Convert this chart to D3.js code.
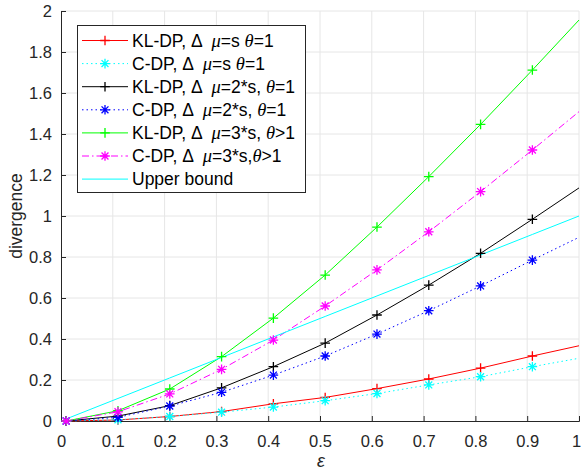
<!DOCTYPE html>
<html><head><meta charset="utf-8">
<script src="https://cdn.jsdelivr.net/npm/d3@7"></script>
<style>body{margin:0;background:#fff}svg{display:block}text{font-family:"Liberation Sans",Arial,sans-serif}</style>
</head><body>
<svg id="c" width="581" height="473"></svg>
<script>
const xs = [0.01,0.11,0.21,0.31,0.41,0.51,0.61,0.71,0.81,0.91,1.0];
const klS   = [0,0.005,0.022,0.046,0.084,0.115,0.158,0.205,0.258,0.317,0.367];
const cdpS  = [0,0.006,0.022,0.043,0.068,0.099,0.134,0.176,0.216,0.265,0.306];
const kl2S  = [0,0.024,0.075,0.162,0.265,0.38,0.517,0.663,0.818,0.984,1.137];
const cdp2S = [0,0.018,0.073,0.14,0.224,0.317,0.424,0.538,0.659,0.785,0.896];
const kl3S  = [0,0.05,0.156,0.314,0.502,0.712,0.946,1.192,1.447,1.712,1.956];
const cdp3S = [0,0.045,0.132,0.252,0.395,0.561,0.737,0.923,1.119,1.322,1.509];
const upper = [0.01,0.11,0.21,0.31,0.41,0.51,0.61,0.71,0.81,0.91,1.0];
const xTicks = [0,0.1,0.2,0.3,0.4,0.5,0.6,0.7,0.8,0.9,1];
const yTicks = [0,0.2,0.4,0.6,0.8,1,1.2,1.4,1.6,1.8,2];

const series = [
 {name:["KL-DP, Δ  ","μ","=s ","θ","=1"], v:klS, color:"#ff0000", dash:null, marker:"plus"},
 {name:["C-DP, Δ  ","μ","=s ","θ","=1"], v:cdpS, color:"#00ffff", dash:"1.5,3", marker:"star"},
 {name:["KL-DP, Δ  ","μ","=2*s, ","θ","=1"], v:kl2S, color:"#000000", dash:null, marker:"plus"},
 {name:["C-DP, Δ  ","μ","=2*s, ","θ","=1"], v:cdp2S, color:"#0000ff", dash:"1.5,3", marker:"star"},
 {name:["KL-DP, Δ  ","μ","=3*s, ","θ",">1"], v:kl3S, color:"#00ff00", dash:null, marker:"plus"},
 {name:["C-DP, Δ  ","μ","=3*s,","θ",">1"], v:cdp3S, color:"#ff00ff", dash:"7,3,1.5,3", marker:"star"},
 {name:["Upper bound"], v:upper, color:"#00ffff", dash:null, marker:null}
];

const L=61, R=579, T=11, B=421;
const x = d3.scaleLinear().domain([0,1]).range([L,R]);
const y = d3.scaleLinear().domain([0,2]).range([B,T]);
const svg = d3.select("#c");
const axc = "#262626";

// grid
svg.append("g").selectAll("line").data(xTicks.slice(1)).join("line")
  .attr("x1",d=>x(d)).attr("x2",d=>x(d)).attr("y1",T).attr("y2",B)
  .attr("stroke","#e6e6e6").attr("stroke-width",1);
svg.append("g").selectAll("line").data(yTicks.slice(1)).join("line")
  .attr("x1",L).attr("x2",R).attr("y1",d=>y(d)).attr("y2",d=>y(d))
  .attr("stroke","#e6e6e6").attr("stroke-width",1);

// axes
const xa = svg.append("g").attr("transform",`translate(0,${B})`)
  .call(d3.axisBottom(x).tickValues(xTicks).tickSize(-5).tickPadding(14).tickFormat(d=>d3.format("")(d)));
const ya = svg.append("g").attr("transform",`translate(${L},0)`)
  .call(d3.axisLeft(y).tickValues(yTicks).tickSize(-5).tickPadding(9).tickFormat(d=>d3.format("")(d)));
[xa,ya].forEach(a=>{
  a.select(".domain").attr("stroke",axc).attr("stroke-width",1);
  a.selectAll(".tick line").attr("stroke",axc);
  a.selectAll(".tick text").attr("fill",axc).attr("font-size",16.5).attr("font-family","Liberation Sans, Arial, sans-serif");
});
xa.selectAll(".tick text").filter(d=>d===1).attr("dx",-3);

// lines
const line = d3.line().x((d,i)=>x(xs[i])).y(d=>y(d));
const gl = svg.append("g");
series.forEach(s=>{
  gl.append("path").attr("d",line(s.v)).attr("fill","none").attr("stroke",s.color)
    .attr("stroke-width",1).attr("stroke-dasharray",s.dash);
});
function marker(g,type,cx,cy,color){
  const h=4.8;
  if(type==="plus"){
    g.append("path").attr("d",`M${cx-h},${cy}H${cx+h}M${cx},${cy-h}V${cy+h}`).attr("stroke",color).attr("stroke-width",1.3).attr("fill","none");
  } else if(type==="star"){
    const k=h*0.72;
    g.append("path").attr("d",`M${cx-h},${cy}H${cx+h}M${cx},${cy-h}V${cy+h}M${cx-k},${cy-k}L${cx+k},${cy+k}M${cx-k},${cy+k}L${cx+k},${cy-k}`).attr("stroke",color).attr("stroke-width",1.3).attr("fill","none");
  }
}
series.forEach(s=>{
  if(!s.marker) return;
  s.v.slice(0,10).forEach((d,i)=>marker(gl,s.marker,x(xs[i]),y(d),s.color));
});

// labels
svg.append("text").attr("transform","translate(22,216) rotate(-90)").attr("text-anchor","middle")
  .attr("font-size",17.5).attr("fill",axc).text("divergence");
svg.append("text").attr("x",x(0.5)+1).attr("y",467).attr("text-anchor","middle")
  .attr("font-size",18).attr("font-style","italic").attr("font-family","Liberation Serif, serif").attr("fill",axc).text("ε");

// legend
const lg = svg.append("g");
lg.append("rect").attr("x",77.5).attr("y",25.5).attr("width",228).attr("height",167)
  .attr("fill","#fff").attr("stroke",axc).attr("stroke-width",1);
const ly0=40.5, ldy=23.1;
series.forEach((s,i)=>{
  const yy = ly0+i*ldy;
  lg.append("line").attr("x1",82).attr("x2",128).attr("y1",yy).attr("y2",yy)
    .attr("stroke",s.color).attr("stroke-width",1).attr("stroke-dasharray",s.dash);
  if(s.marker) marker(lg,s.marker,105,yy,s.color);
  const t = lg.append("text").attr("x",132).attr("y",yy+6).attr("font-size",17.5).attr("fill","#000")
    .attr("xml:space","preserve").style("white-space","pre");
  s.name.forEach((p,j)=>{
    const ts=t.append("tspan").text(p);
    if(j===1||j===3) ts.attr("font-style","italic").attr("font-family","Liberation Serif, serif").attr("font-size",18.5);
  });
});
</script>
</body></html>
